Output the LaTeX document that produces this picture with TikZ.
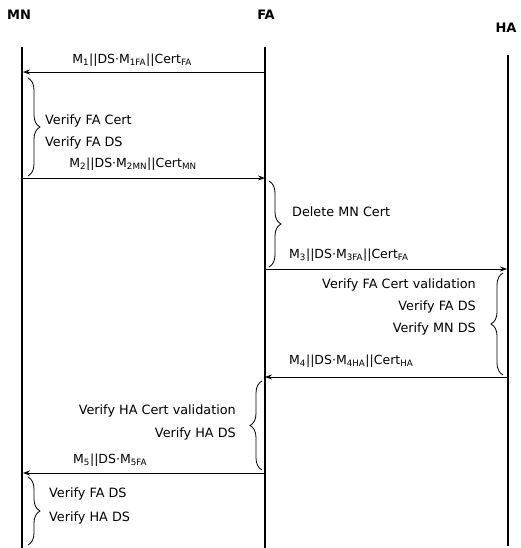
\documentclass[tikz,border=0pt]{standalone}
\usepackage{fontspec}
\setmainfont{DejaVu Sans}
\usetikzlibrary{arrows.meta,decorations.pathreplacing,positioning}
\tikzset{
  actor/.style={font=\fontsize{13}{15}\selectfont\bfseries, inner sep=1pt},
  lifeline/.style={line width=1.5pt},
  msg/.style={line width=0.8pt, -{Stealth[length=7pt,width=5pt]}},
  msglabel/.style={font=\fontsize{12.5}{14}\selectfont, inner sep=1pt},
  note/.style={font=\fontsize{12.8}{14}\selectfont, inner sep=1pt},
  curly/.style={decorate, decoration={brace, amplitude=12pt}, line width=0.8pt},
}
\newcommand{\sub}[1]{\textsubscript{#1}}
\begin{document}
\begin{tikzpicture}[x=1pt, y=-1pt]
  \useasboundingbox (0,0) rectangle (520,548);
  % actors
  \node[actor] (MN) at (19,15) {MN};
  \node[actor] (FA) at (266,15) {FA};
  \node[actor] (HA) at (506,28) {HA};
  \coordinate (MNtop) at (22,47);  \coordinate (MNbot) at (22,548);
  \coordinate (FAtop) at (265,47); \coordinate (FAbot) at (265,548);
  \coordinate (HAtop) at (508,55); \coordinate (HAbot) at (508,546);
  \draw[lifeline] (MNtop) -- (MNbot);
  \draw[lifeline] (FAtop) -- (FAbot);
  \draw[lifeline] (HAtop) -- (HAbot);
  % message points on the lifelines
  \foreach \n/\y in {1/72,2/178,3/269,4/377,5/473}{
    \coordinate (mn\n) at (23,\y);
    \coordinate (fa\n) at (265,\y);
    \coordinate (ha\n) at (507,\y);
  }
  % messages
  \draw[msg] (fa1) -- (mn1);
  \node[msglabel] (m1) at (132,60) {M\sub{1}||DS·M\sub{1FA}||Cert\sub{FA}};
  \draw[msg] (mn2) -- (fa2);
  \node[msglabel] (m2) at (133,164) {M\sub{2}||DS·M\sub{2MN}||Cert\sub{MN}};
  \draw[msg] (fa3) -- (ha3);
  \node[msglabel, anchor=west] (m3) at (288,255) {M\sub{3}||DS·M\sub{3FA}||Cert\sub{FA}};
  \draw[msg] (ha4) -- (fa4);
  \node[msglabel, anchor=west] (m4) at (288,361) {M\sub{4}||DS·M\sub{4HA}||Cert\sub{HA}};
  \draw[msg] (fa5) -- (mn5);
  \node[msglabel, anchor=west] (m5) at (72,460) {M\sub{5}||DS·M\sub{5FA}};
  % braces
  \draw[curly] (28,78) -- (28,176);
  \draw[curly] (269,181) -- (269,267);
  \draw[curly] (503,375) -- (503,273);
  \draw[curly] (262,470) -- (262,381);
  \draw[curly] (28,477) -- (28,545);
  % notes
  \node[note, anchor=west] (n1) at (44,121) {Verify FA Cert};
  \node[note, anchor=west] (n2) at (44,143) {Verify FA DS};
  \node[note, anchor=west] (n3) at (291,212) {Delete MN Cert};
  \node[note, anchor=east] (n4) at (477,285) {Verify FA Cert validation};
  \node[note, anchor=east] (n5) at (477,307) {Verify FA DS};
  \node[note, anchor=east] (n6) at (477,329) {Verify MN DS};
  \node[note, anchor=east] (n7) at (237,411) {Verify HA Cert validation};
  \node[note, anchor=east] (n8) at (237,434) {Verify HA DS};
  \node[note, anchor=west] (n9) at (48,494) {Verify FA DS};
  \node[note, anchor=west] (n10) at (48,518) {Verify HA DS};
\end{tikzpicture}
\end{document}
